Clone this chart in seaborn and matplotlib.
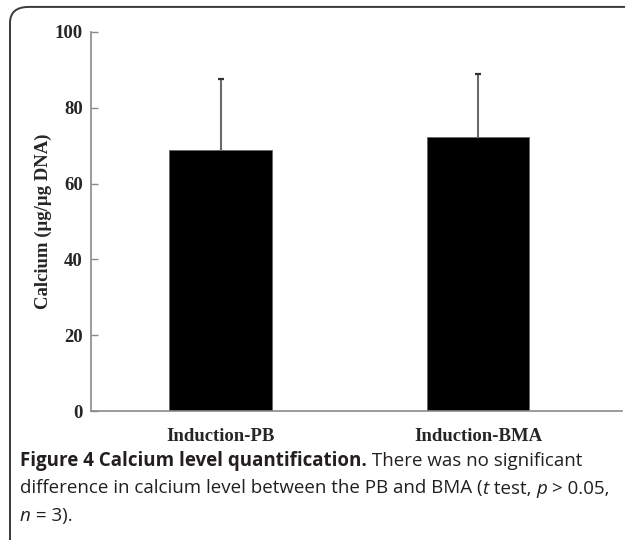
# Calcium level quantification bar chart

import matplotlib.pyplot as plt
import seaborn as sns
import pandas as pd
from matplotlib.patches import FancyBboxPatch


groups = ["Induction-PB", "Induction-BMA"]
means = [68.9, 72.3]
upper_err = [18.7, 16.6]
y_ticks = [0, 20, 40, 60, 80, 100]

caption_lines = [
    [("Figure 4 Calcium level quantification.", "bold", "normal"),
     (" There was no significant", "normal", "normal")],
    [("difference in calcium level between the PB and BMA (", "normal", "normal"),
     ("t", "normal", "italic"), (" test, ", "normal", "normal"),
     ("p", "normal", "italic"), (" > 0.05,", "normal", "normal")],
    [("n", "normal", "italic"), (" = 3).", "normal", "normal")],
]

SERIF = "Liberation Serif"
CAP_FONT = "Open Sans"


def draw_caption(fig, lines, x0, y0, step):
    renderer = fig.canvas.get_renderer()
    for i, parts in enumerate(lines):
        x = x0
        y = y0 - i * step
        for text, weight, style in parts:
            t = fig.text(x, y, text, fontsize=13.5, family=CAP_FONT,
                         weight=weight, style=style, color="#231f20",
                         va="baseline", ha="left")
            bb = t.get_window_extent(renderer=renderer)
            x += bb.width / fig.bbox.width


def main():
    sns.set_style("white")
    fig = plt.figure(figsize=(6.25, 5.4), dpi=100)

    # Rounded frame around figure panel
    frame = FancyBboxPatch((10 / 625, -0.2), 1.2, 1.2 - 8 / 540 + 0.002,
                           boxstyle="round,pad=0,rounding_size=0.03",
                           transform=fig.transFigure, fill=False,
                           edgecolor="#3a3a3a", linewidth=1.4)
    fig.patches.append(frame)

    ax = fig.add_axes([91 / 625, 1 - 411 / 540, 531 / 625, 379 / 540])
    df = pd.DataFrame({"group": groups, "mean": means})
    sns.barplot(data=df, x="group", y="mean", color="black", saturation=1,
                width=0.4, edgecolor="#666666", linewidth=0.6, ax=ax)

    # upper error bars only, with a small cap on top
    xs = list(range(len(groups)))
    tops = [m + e for m, e in zip(means, upper_err)]
    ax.vlines(xs, means, tops, color="#6a6a6a", linewidth=1.5, zorder=3)
    ax.hlines(tops, [x - 0.012 for x in xs], [x + 0.012 for x in xs],
              color="#333333", linewidth=1.6, zorder=3)

    ax.set_ylim(0, 100)
    ax.set_xlim(-0.505, 1.56)
    ax.set_yticks(y_ticks)
    ax.set_yticklabels([str(v) for v in y_ticks], family=SERIF,
                       weight="bold", fontsize=13.5)
    ax.set_xticks(xs)
    ax.set_xticklabels(groups, family=SERIF, weight="bold", fontsize=13.5)
    ax.set_xlabel("")
    ax.set_ylabel("Calcium (μg/μg DNA)", family=SERIF, weight="bold",
                  fontsize=13.5, labelpad=2)

    for side in ["top", "right"]:
        ax.spines[side].set_visible(False)
    for side in ["left", "bottom"]:
        ax.spines[side].set_color("#8a8a8a")
        ax.spines[side].set_linewidth(1.2)
    ax.tick_params(axis="y", left=True, direction="in", length=5, width=1,
                   color="#8a8a8a", pad=6)
    ax.tick_params(axis="x", bottom=False, pad=9)

    draw_caption(fig, caption_lines, 20 / 625, 1 - 466 / 540, 27.5 / 540)

    fig.savefig("out.png", dpi=100)


if __name__ == "__main__":
    main()
